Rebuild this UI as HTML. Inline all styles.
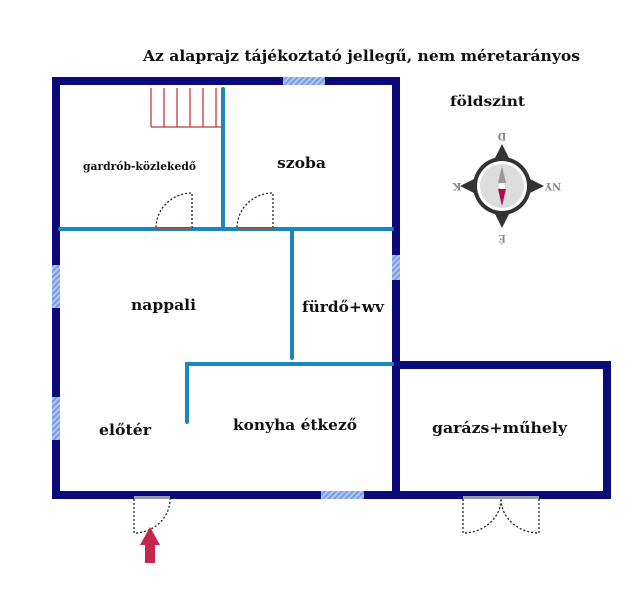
<!DOCTYPE html>
<html><head><meta charset="utf-8"><style>
html,body{margin:0;padding:0;background:#fff;width:640px;height:596px;overflow:hidden}
text{font-family:"DejaVu Serif","Liberation Serif",serif;font-weight:bold;fill:#111}
</style></head><body>
<svg width="640" height="596" viewBox="0 0 640 596" xmlns="http://www.w3.org/2000/svg">
<defs>
<pattern id="h" width="4" height="4" patternUnits="userSpaceOnUse" patternTransform="rotate(45)">
<rect width="4" height="4" fill="#b0c8ee"/><rect width="2" height="4" fill="#7a9ce0"/></pattern>
</defs>
<text x="143" y="61" font-size="15" textLength="437" lengthAdjust="spacingAndGlyphs">Az alaprajz tájékoztató jellegű, nem méretarányos</text>
<text x="450" y="106" font-size="14" textLength="75" lengthAdjust="spacingAndGlyphs">földszint</text>
<g fill="#0b0a78">
<rect x="52" y="77" width="348" height="8"/>
<rect x="52" y="77" width="8" height="422"/>
<rect x="392" y="77" width="8" height="422"/>
<rect x="52" y="491" width="559" height="8"/>
<rect x="392" y="361" width="219" height="8"/>
<rect x="603" y="361" width="8" height="138"/>
</g>
<rect x="283" y="77" width="42" height="8" fill="url(#h)"/>
<rect x="52" y="265" width="8" height="43" fill="url(#h)"/>
<rect x="52" y="397" width="8" height="43" fill="url(#h)"/>
<rect x="392" y="255" width="8" height="25" fill="url(#h)"/>
<rect x="321" y="491" width="43" height="8" fill="url(#h)"/>
<g stroke="#1b87c2" stroke-width="4" fill="none" stroke-linecap="round">
<line x1="60" y1="229" x2="392" y2="229"/>
<line x1="223" y1="89" x2="223" y2="229"/>
<line x1="292" y1="229" x2="292" y2="358"/>
<polyline points="187,422 187,364 392,364"/>
</g>
<g stroke="#c0393b" stroke-width="1.3">
<line x1="151" y1="127" x2="221" y2="127"/>
<line x1="151" y1="88" x2="151" y2="127"/>
<line x1="164" y1="88" x2="164" y2="127"/>
<line x1="177" y1="88" x2="177" y2="127"/>
<line x1="190" y1="88" x2="190" y2="127"/>
<line x1="203" y1="88" x2="203" y2="127"/>
<line x1="216" y1="88" x2="216" y2="127"/>
</g>
<g stroke="#222" stroke-width="1.3" stroke-dasharray="2,2" fill="none">
<path d="M192 228 V193 A36 35 0 0 0 156 228"/>
<path d="M273 228 V193 A36 35 0 0 0 237 228"/>
<path d="M134 499 V533 A36 34 0 0 0 170 499"/>
<path d="M463 499 V533 A38 34 0 0 0 501 499"/>
<path d="M539 499 V533 A38 34 0 0 1 501 499"/>
</g>
<g stroke="#8a5a3a" stroke-width="2"><line x1="156" y1="228" x2="192" y2="228"/><line x1="237" y1="228" x2="273" y2="228"/></g>
<g fill="#9a9ab0"><rect x="134" y="496" width="36" height="3"/><rect x="463" y="496" width="76" height="3"/></g>
<path d="M150 527 L160 545 L155 545 L155 563 L145 563 L145 545 L140 545 Z" fill="#c8264f"/>
<g transform="translate(502,186)">
<path d="M0 -42 L7 -28 L-7 -28 Z M0 42 L7 28 L-7 28 Z M-42 0 L-28 7 L-28 -7 Z M42 0 L28 7 L28 -7 Z" fill="#333"/>
<circle r="29" fill="#333"/><circle r="25" fill="#fff"/><circle r="22" fill="#ddd"/>
<path d="M0 -20 L4 -3 L-4 -3 Z" fill="#999"/><path d="M0 20 L4 3 L-4 3 Z" fill="#b00b4b"/>
<circle r="3" fill="#fff"/>
<g font-size="10">
<text x="0" y="-47" text-anchor="middle" transform="rotate(180 0 -50)" style="fill:#888">D</text>
<text x="0" y="57" text-anchor="middle" transform="rotate(180 0 53)" style="fill:#888">É</text>
<text x="-45" y="3" text-anchor="middle" transform="rotate(180 -45 0)" style="fill:#888">K</text>
<text x="51" y="3" text-anchor="middle" transform="rotate(180 51 0)" style="fill:#888">NY</text>
</g>
</g>
<text x="83" y="170" font-size="11" textLength="113" lengthAdjust="spacingAndGlyphs">gardrób-közlekedő</text>
<text x="277" y="168" font-size="15" textLength="49" lengthAdjust="spacingAndGlyphs">szoba</text>
<text x="131" y="310" font-size="15" textLength="65" lengthAdjust="spacingAndGlyphs">nappali</text>
<text x="302" y="312" font-size="15" textLength="82" lengthAdjust="spacingAndGlyphs">fürdő+wv</text>
<text x="99" y="435" font-size="15" textLength="52" lengthAdjust="spacingAndGlyphs">előtér</text>
<text x="233" y="430" font-size="15" textLength="124" lengthAdjust="spacingAndGlyphs">konyha étkező</text>
<text x="432" y="433" font-size="15" textLength="135" lengthAdjust="spacingAndGlyphs">garázs+műhely</text>
</svg>
</body></html>
